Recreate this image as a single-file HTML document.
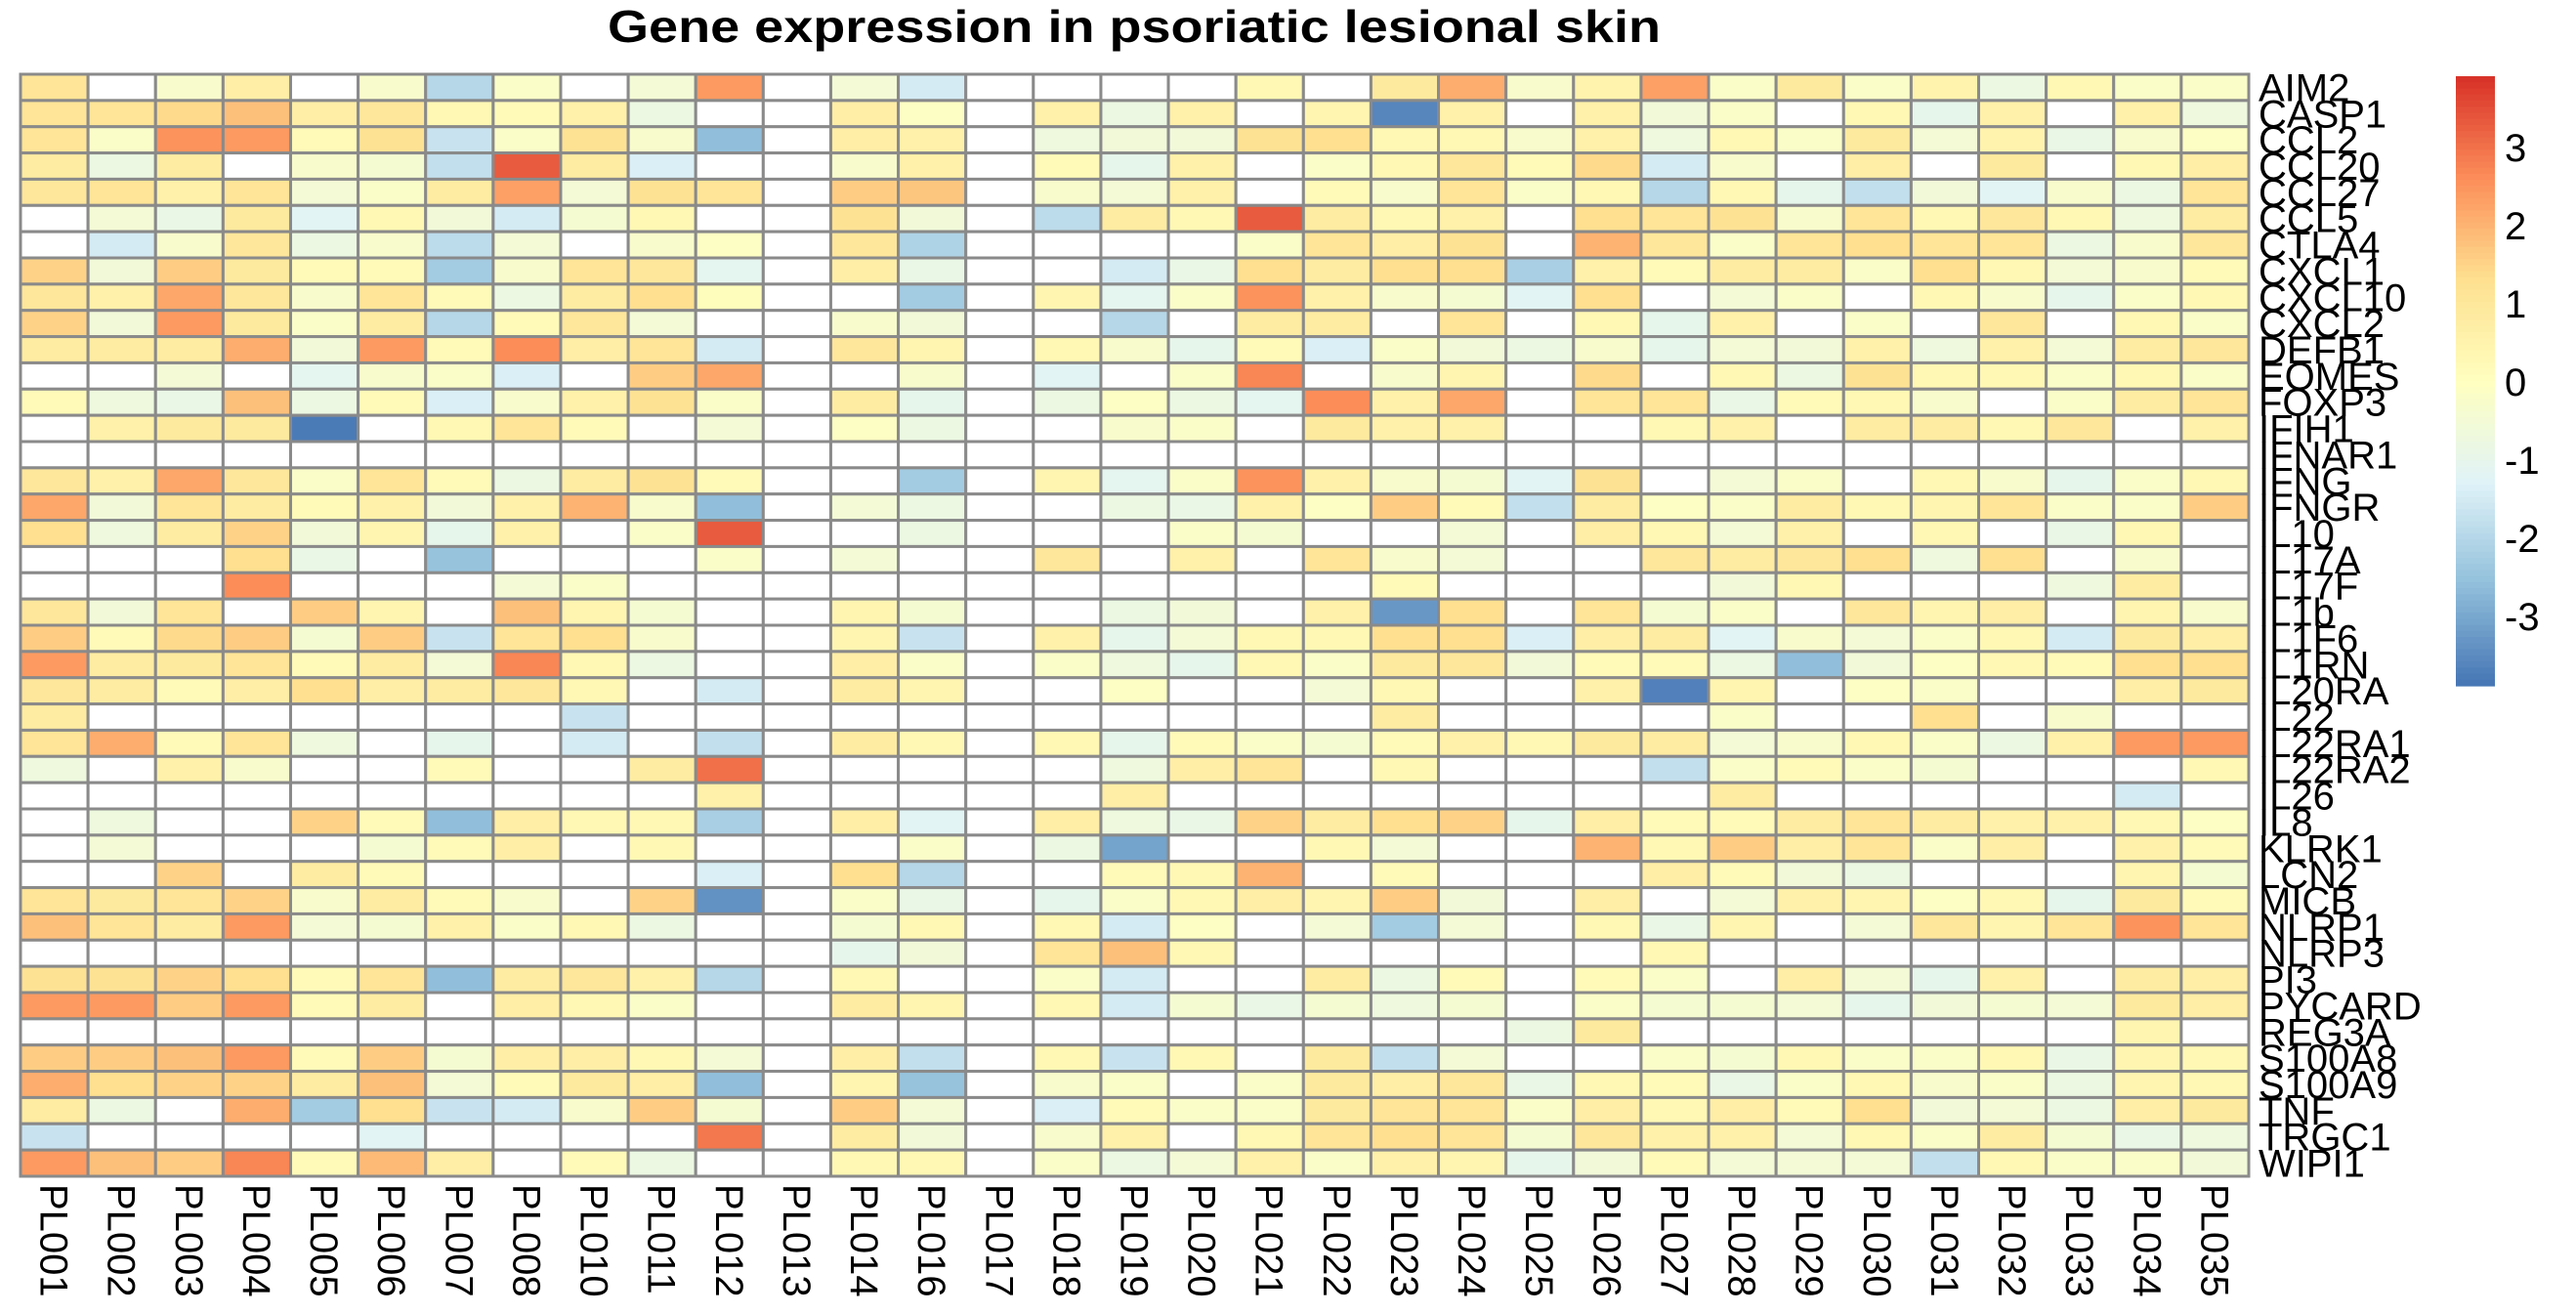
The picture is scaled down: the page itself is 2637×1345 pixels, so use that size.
<!DOCTYPE html>
<html><head><meta charset="utf-8"><title>Gene expression heatmap</title>
<style>html,body{margin:0;padding:0;background:#fff;}svg{display:block;}</style></head>
<body>
<svg id="chart" width="2637" height="1345" viewBox="0 0 2637 1345" xmlns="http://www.w3.org/2000/svg">
<rect x="0" y="0" width="2637" height="1345" fill="#fff"/>
<text x="1161" y="43" text-anchor="middle" font-family="Liberation Sans, sans-serif" font-weight="bold" font-size="46" textLength="1078" lengthAdjust="spacingAndGlyphs">Gene expression in psoriatic lesional skin</text>
<g id="cells"></g>
<g id="rowlabels"></g>
<g id="collabels"></g>
<g id="legend"></g>
</svg>
<script>
const genes = ["AIM2","CASP1","CCL2","CCL20","CCL27","CCL5","CTLA4","CXCL1","CXCL10","CXCL2","DEFB1","EOMES","FOXP3","IFIH1","IFNAR1","IFNG","IFNGR","IL10","IL17A","IL17F","IL1b","IL1F6","IL1RN","IL20RA","IL22","IL22RA1","IL22RA2","IL26","IL8","KLRK1","LCN2","MICB","NLRP1","NLRP3","PI3","PYCARD","REG3A","S100A8","S100A9","TNF","TRGC1","WIPI1"];
const samples = ["PL001","PL002","PL003","PL004","PL005","PL006","PL007","PL008","PL010","PL011","PL012","PL013","PL014","PL016","PL017","PL018","PL019","PL020","PL021","PL022","PL023","PL024","PL025","PL026","PL027","PL028","PL029","PL030","PL031","PL032","PL033","PL034","PL035"];
const legendTicks = [3,2,1,0,-1,-2,-3];
const n = null;
const r00=[1.1,n,-0.3,0.7,n,-0.3,-2.0,-0.2,n,-0.5,2.4,n,-0.5,-1.5,n,n,n,n,0.3,n,0.9,2.1,-0.3,0.5,2.3,-0.2,0.9,-0.2,0.5,-0.8,0.3,-0.2,-0.2];
const r01=[1.1,1.1,1.4,1.8,0.7,1.0,0.3,0.2,0.6,-0.8,n,n,0.7,-0.1,n,0.6,-0.8,0.6,n,0.4,-3.6,0.6,n,0.6,-0.6,-0.2,n,0.3,-1.0,0.6,n,0.6,-0.7];
const r02=[1.1,-0.2,2.5,2.4,0.2,1.2,-1.7,-0.2,1.2,-0.3,-2.6,n,0.7,0.6,n,-0.7,-0.6,-0.6,1.2,1.3,0.3,0.3,-0.3,0.6,-0.7,0.3,-0.2,0.9,-0.5,0.5,-0.9,-0.3,-0.1];
const r03=[0.8,-0.8,0.8,n,-0.3,-0.4,-1.8,3.3,0.8,-1.4,n,n,-0.3,0.6,n,0.2,-1.0,0.6,n,-0.2,0.3,1.0,0.2,1.4,-1.5,-0.3,n,0.7,n,0.9,n,0.3,0.7];
const r04=[1.0,1.1,0.6,1.1,-0.5,-0.2,0.8,2.3,-0.5,1.2,1.1,n,1.6,1.7,n,-0.3,-0.5,0.6,n,0.2,-0.3,1.1,-0.2,0.3,-2.0,0.3,-1.0,-1.8,-0.6,-1.2,-0.3,-0.8,1.1];
const r05=[n,-0.5,-0.9,0.9,-1.2,0.3,-0.6,-1.5,-0.4,0.3,n,n,1.2,-0.6,n,-1.9,0.8,0.3,3.3,0.8,0.3,0.6,n,1.3,1.1,1.2,-0.3,1.1,0.3,1.0,0.3,-0.7,0.8];
const r06=[n,-1.5,-0.3,1.0,-0.8,-0.3,-1.9,-0.5,n,-0.3,-0.1,n,1.0,-2.1,n,n,n,n,-0.2,1.1,0.7,1.2,n,2.0,1.0,-0.2,1.1,1.3,1.1,1.1,-0.8,-0.3,1.0];
const r07=[1.5,-0.6,1.6,0.9,0.2,0.2,-2.3,-0.3,1.1,1.0,-1.1,n,0.7,-0.9,n,n,-1.5,-0.9,1.3,0.8,1.3,1.3,-2.2,0.6,0.2,0.8,0.8,-0.2,1.3,0.3,-0.5,-0.3,0.2];
const r08=[1.0,0.6,2.2,1.0,-0.3,1.1,0.2,-0.8,0.8,1.3,0.1,n,n,-2.3,n,0.4,-1.1,-0.2,2.5,0.6,-0.3,-0.4,-1.2,1.3,n,-0.5,-0.2,n,0.3,-0.3,-1.0,-0.2,0.3];
const r09=[1.5,-0.6,2.4,0.9,-0.2,0.8,-2.0,0.2,1.0,-0.5,n,n,-0.3,-0.6,n,n,-2.0,n,0.8,0.8,n,1.1,n,0.3,-1.0,0.6,n,-0.2,n,1.0,n,0.3,-0.2];
const r10=[0.8,0.8,0.8,2.1,-0.6,2.4,0.2,2.6,0.7,1.1,-1.5,n,1.0,0.4,n,0.3,-0.3,-1.0,0.2,-1.4,-0.2,-0.6,-0.8,-0.3,-1.0,-0.5,-0.6,0.6,-0.7,0.6,-0.5,0.8,1.0];
const r11=[n,n,-0.5,n,-1.1,-0.3,-0.2,-1.4,n,1.6,2.2,n,n,-0.3,n,-1.2,n,-0.2,2.7,n,-0.3,0.4,n,1.4,n,0.3,-0.8,1.2,0.3,0.3,-0.2,0.3,-0.2];
const r12=[0.2,-0.7,-0.9,1.8,-0.8,0.2,-1.4,-0.3,0.6,1.2,-0.2,n,0.8,-1.0,n,-0.8,-0.1,-0.8,-1.1,2.6,0.6,2.2,n,1.1,1.1,-0.9,0.2,0.3,-0.3,n,-0.2,0.8,1.1];
const r13=[n,0.6,0.9,0.9,-3.8,n,0.3,1.1,0.2,n,-0.5,n,-0.1,-0.8,n,n,-0.3,-0.2,n,0.9,0.6,0.6,n,n,0.3,0.6,n,0.8,0.8,0.3,1.0,n,0.6];
const r14=[n,n,n,n,n,n,n,n,n,n,n,n,n,n,n,n,n,n,n,n,n,n,n,n,n,n,n,n,n,n,n,n,n];
const r15=[1.0,0.6,2.2,1.0,-0.2,1.1,0.2,-0.8,0.8,1.2,0.2,n,n,-2.3,n,0.4,-1.1,-0.2,2.5,0.6,-0.3,-0.4,-1.2,1.2,n,-0.5,-0.2,n,0.3,-0.3,-1.0,-0.2,0.3];
const r16=[2.2,-0.6,1.1,0.8,0.2,0.6,-0.6,0.6,2.0,-0.3,-2.6,n,-0.5,-0.8,n,n,-0.8,-0.9,0.6,-0.1,1.6,0.2,-1.8,0.8,-0.1,-0.2,0.8,0.3,0.4,1.1,-0.2,-0.2,1.6];
const r17=[1.3,-0.7,0.8,1.5,-0.6,0.4,-1.0,0.6,n,-0.2,3.3,n,n,-0.8,n,n,n,-0.2,-0.4,n,n,-0.5,n,0.7,0.3,-0.5,0.6,n,0.3,n,-0.9,0.3,n];
const r18=[n,n,n,1.3,-0.9,n,-2.5,n,n,n,-0.2,n,-0.5,n,n,1.0,n,0.6,n,1.1,-0.3,-0.5,n,n,1.0,0.8,1.0,1.3,-0.7,1.3,n,-0.3,n];
const r19=[n,n,n,2.6,n,n,n,-0.5,-0.2,n,n,n,n,n,n,n,n,n,n,n,0.2,n,n,n,n,-0.6,0.3,n,n,n,-0.7,0.8,n];
const r20=[1.0,-0.6,1.1,n,1.6,0.4,n,1.8,0.4,-0.4,n,n,0.4,-0.4,n,n,-0.8,-0.6,n,0.6,-3.3,1.3,n,1.1,-0.4,-0.2,n,1.0,0.4,0.7,n,0.4,-0.3];
const r21=[1.6,0.2,1.4,1.6,-0.4,1.6,-1.7,1.1,1.3,-0.3,n,n,0.4,-1.7,n,0.6,-1.0,-0.5,0.3,0.3,1.3,1.3,-1.4,0.7,0.8,-1.2,-0.3,-0.5,-0.2,0.3,-1.5,0.9,0.7];
const r22=[2.4,0.8,0.9,1.1,0.2,0.8,-0.5,2.7,0.3,-0.8,n,n,0.7,-0.2,n,-0.2,-0.7,-1.0,0.3,-0.2,0.9,1.0,-0.6,0.2,0.2,-0.8,-2.6,-0.6,-0.1,0.3,0.2,1.3,1.3];
const r23=[1.0,0.8,0.2,0.7,1.3,0.7,0.8,1.0,0.3,n,-1.5,n,0.8,0.4,n,n,-0.1,n,n,-0.5,0.3,n,n,0.6,-3.7,0.4,n,-0.1,-0.2,n,n,0.7,0.9];
const r24=[0.8,n,n,n,n,n,n,n,-1.7,n,n,n,n,n,n,n,n,n,n,n,0.8,n,n,n,n,-0.2,n,n,1.3,n,-0.3,n,n];
const r25=[1.1,2.1,0.2,1.1,-0.7,n,-1.0,n,-1.5,n,-1.8,n,0.8,0.3,n,0.3,-1.0,0.2,-0.2,-0.4,0.2,0.6,0.3,0.9,0.8,-0.5,-0.3,0.3,-0.2,-0.8,0.6,2.4,2.4];
const r26=[-0.7,n,0.6,-0.3,n,n,0.2,n,n,0.8,3.0,n,n,n,n,n,-0.7,0.7,1.1,n,0.3,n,n,n,-1.8,-0.2,0.2,-0.2,-0.4,n,n,n,0.3];
const r27=[n,n,n,n,n,n,n,n,n,n,0.6,n,n,n,n,n,0.7,n,n,n,n,n,n,n,n,0.8,n,n,n,n,n,-1.5,n];
const r28=[n,-0.7,n,n,1.5,0.2,-2.6,0.7,0.3,0.3,-2.2,n,0.7,-1.2,n,0.7,-0.7,-0.9,1.5,0.8,1.3,1.5,-1.0,0.7,0.2,0.2,0.8,1.1,0.8,0.6,0.6,0.3,-0.1];
const r29=[n,-0.5,n,n,n,-0.4,0.2,0.7,n,0.3,n,n,n,-0.2,n,-0.8,-3.1,n,n,0.3,-0.5,n,n,2.0,0.3,1.6,0.7,1.1,-0.2,0.7,n,0.6,0.2];
const r30=[n,n,1.5,n,0.8,0.2,n,n,n,n,-1.4,n,1.3,-2.0,n,n,0.2,0.3,2.0,n,0.2,n,n,n,0.7,0.2,-0.6,-0.8,n,n,n,0.4,-0.4];
const r31=[1.1,0.9,1.1,1.5,-0.3,0.8,0.2,-0.3,n,1.5,-3.4,n,-0.2,-0.9,n,-1.0,-0.2,0.3,0.7,0.4,1.6,-0.6,n,0.7,n,-0.5,0.6,0.4,-0.1,0.3,-1.0,0.9,0.2];
const r32=[1.8,1.1,0.8,2.4,-0.5,-0.4,0.6,-0.2,0.3,-0.8,n,n,-0.4,0.3,n,0.3,-1.5,-0.1,n,-0.5,-2.3,-0.5,n,0.3,-0.9,0.4,n,-0.5,1.0,0.4,1.1,2.5,1.1];
const r33=[n,n,n,n,n,n,n,n,n,n,n,n,-1.0,-0.6,n,1.1,1.8,0.3,n,n,n,n,n,n,0.3,n,n,n,n,n,n,n,n];
const r34=[1.2,1.2,1.5,1.3,0.2,1.1,-2.6,0.8,1.0,0.6,-2.0,n,0.3,n,n,-0.2,-1.5,n,n,0.8,-0.8,0.2,n,0.2,-0.2,n,0.7,-0.5,-1.0,0.6,n,0.8,0.7];
const r35=[2.4,2.4,1.6,2.4,0.2,0.8,n,0.7,0.3,-0.2,n,n,0.8,0.4,n,0.3,-1.5,-0.4,-0.9,-0.4,-0.7,-0.4,n,-0.2,-0.4,-0.4,-0.5,-1.0,-0.6,-0.4,-0.5,0.9,0.7];
const r36=[n,n,n,n,n,n,n,n,n,n,n,n,n,n,n,n,n,n,n,n,n,n,-0.8,0.9,n,n,n,n,n,n,n,0.4,n];
const r37=[1.6,1.6,1.8,2.4,0.2,1.6,-0.4,0.7,0.7,0.3,-0.5,n,0.7,-1.8,n,0.3,-1.7,0.3,n,0.9,-1.8,-0.5,n,n,-0.2,-0.4,0.3,-0.2,-0.2,0.3,-0.9,0.4,0.3];
const r38=[2.1,1.3,1.5,1.5,0.8,1.8,-0.5,0.2,0.9,0.7,-2.6,n,0.4,-2.5,n,-0.3,-0.2,n,-0.2,0.9,0.7,1.0,-0.9,0.3,0.2,-0.9,-0.2,0.3,-0.3,-0.2,-0.8,0.4,0.3];
const r39=[0.8,-0.8,n,2.1,-2.3,1.3,-1.7,-1.5,-0.3,1.6,-0.4,n,1.6,-0.5,n,-1.4,0.2,-0.2,-0.2,0.9,1.1,1.1,-0.2,0.7,0.3,0.7,0.2,1.3,-0.6,-0.5,-0.8,0.7,0.9];
const r40=[-1.7,n,n,n,n,-1.2,n,n,n,n,2.9,n,0.8,-0.6,n,-0.3,0.6,n,0.3,1.1,1.3,1.1,-0.4,1.0,0.6,0.6,-0.5,0.3,-0.2,0.8,-0.4,-0.9,-0.7];
const r41=[2.4,1.8,1.6,2.7,0.2,1.9,0.7,n,0.2,-0.8,n,n,0.3,0.3,n,-0.2,-0.8,-0.5,0.6,-0.2,0.6,0.4,-1.0,-0.6,0.2,-0.5,-0.5,-0.5,-1.8,0.3,-0.2,-0.2,-0.6];
const values = [r00,r01,r02,r03,r04,r05,r06,r07,r08,r09,r10,r11,r12,r13,r14,r15,r16,r17,r18,r19,r20,r21,r22,r23,r24,r25,r26,r27,r28,r29,r30,r31,r32,r33,r34,r35,r36,r37,r38,r39,r40,r41];

const NS = "http://www.w3.org/2000/svg";
const X0 = 21, X1 = 2302, Y0 = 76, Y1 = 1204;
const VMIN = -3.9, VMAX = 3.9;
const cw = (X1 - X0) / samples.length, rh = (Y1 - Y0) / genes.length;
const xScale = i => X0 + i * cw;
const yScale = j => Y0 + j * rh;
const pal = [[69,117,180],[145,191,219],[224,243,248],[255,255,191],[254,224,144],[252,141,89],[215,48,39]];
function color(v){
  if (v === null) return "#ffffff";
  let t = (v - VMIN) / (VMAX - VMIN); t = Math.max(0, Math.min(1, t));
  const p = t * (pal.length - 1); const k = Math.min(pal.length - 2, Math.floor(p)); const f = p - k;
  const c = pal[k].map((a, idx) => Math.round(a + (pal[k+1][idx] - a) * f));
  return "rgb(" + c.join(",") + ")";
}
function mk(tag, attrs, parent){ const e = document.createElementNS(NS, tag); for (const k in attrs) e.setAttribute(k, attrs[k]); parent.appendChild(e); return e; }

const gC = document.getElementById("cells");
values.forEach((row, j) => {
  row.forEach((v, i) => {
    const r = mk("rect", {x: xScale(i), y: yScale(j), width: cw, height: rh, fill: color(v), stroke: "#8a8a8a", "stroke-width": 3}, gC);
    
    
  });
});
const gR = document.getElementById("rowlabels");
genes.forEach((g, j) => {
  const t = mk("text", {x: 2312, y: yScale(j) + rh / 2 + 14, "font-family": "Liberation Sans, sans-serif", "font-size": 40, fill: "#000"}, gR);
  t.textContent = g;
  
  
});
const gX = document.getElementById("collabels");
samples.forEach((s, i) => {
  const cx = xScale(i) + cw / 2 - 14, cy = 1212;
  const t = mk("text", {x: cx, y: cy, transform: "rotate(90 " + cx + " " + cy + ")", "font-family": "Liberation Sans, sans-serif", "font-size": 40, fill: "#000"}, gX);
  t.textContent = s;
  
  
});
// legend
const gL = document.getElementById("legend");
const LX = 2514, LW = 40, LY0 = 78, LY1 = 702;
const ly = v => LY0 + (VMAX - v) / (VMAX - VMIN) * (LY1 - LY0);
const N = 100;
for (let k = 0; k < N; k++) {
  const v = VMAX - (k + 0.5) * (VMAX - VMIN) / N;
  const r = mk("rect", {x: LX, y: LY0 + k * (LY1 - LY0) / N, width: LW, height: (LY1 - LY0) / N + 0.6, fill: color(v)}, gL);
  
  
}
legendTicks.forEach(v => {
  const t = mk("text", {x: 2564, y: ly(v) + 15, "font-family": "Liberation Sans, sans-serif", "font-size": 40, fill: "#000"}, gL);
  t.textContent = String(v);
  
  
});
</script>
</body></html>
